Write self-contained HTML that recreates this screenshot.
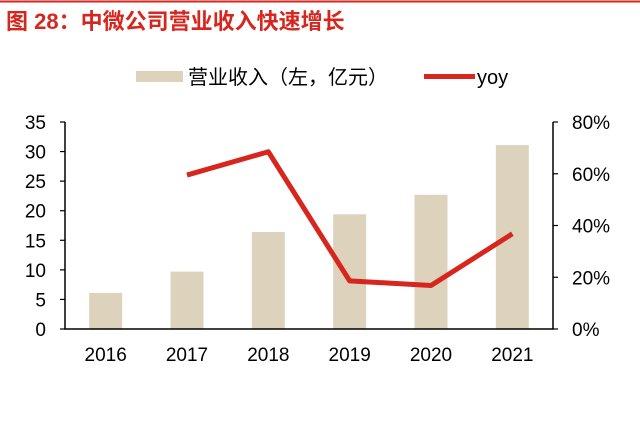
<!DOCTYPE html>
<html><head><meta charset="utf-8"><style>
body{margin:0;background:#fff;}
svg{display:block;font-family:"Liberation Sans","Noto Sans CJK SC",sans-serif;}
</style></head><body>
<svg width="640" height="421" viewBox="0 0 640 421">
<line x1="0" y1="1.5" x2="640" y2="1.5" stroke="#d7261e" stroke-width="2"/>
<text x="6" y="29" font-size="22" font-weight="bold" fill="#d7261e">图 28：中微公司营业收入快速增长</text>
<rect x="136" y="71" width="47" height="11" fill="#ddd3bd"/>
<text x="188" y="84" font-size="20" fill="#000">营业收入（左，亿元）</text>
<line x1="424" y1="76.5" x2="475" y2="76.5" stroke="#d7261e" stroke-width="5"/>
<text x="477" y="84" font-size="20" fill="#000">yoy</text>
<g id="plot"></g>
</svg>
<script>
const categories=["2016","2017","2018","2019","2020","2021"];
const revenue=[6.1,9.7,16.4,19.4,22.7,31.1];
const yoy=[null,59.5,68.5,18.6,16.8,36.8];
const leftTicks=[0,5,10,15,20,25,30,35];
const rightTicks=[0,20,40,60,80];
const NS="http://www.w3.org/2000/svg";
const g=document.getElementById("plot");
const X0=65,X1=553,Y0=329,Y1=122;
const bw=(X1-X0)/categories.length;
const xc=i=>X0+bw*(i+0.5);
const yL=v=>Y0-(v/35)*(Y0-Y1);
const yR=v=>Y0-(v/80)*(Y0-Y1);
function mk(t,a){const e=document.createElementNS(NS,t);for(const k in a)e.setAttribute(k,a[k]);g.appendChild(e);return e;}
revenue.forEach((v,i)=>{
 const r=mk("rect",{x:xc(i)-16.5,y:yL(v),width:33,height:Y0-yL(v),fill:"#ddd3bd"});
 
 
});
let pts=[];yoy.forEach((v,i)=>{if(v!==null)pts.push(xc(i)+","+yR(v));});
const pl=mk("polyline",{points:pts.join(" "),fill:"none",stroke:"#d7261e","stroke-width":5,"stroke-linejoin":"round"});


const ax=mk("path",{d:`M${X0},${Y1}V${Y0}H${X1}V${Y1}`,fill:"none",stroke:"#000","stroke-width":1.5});


leftTicks.forEach(v=>{
 mk("line",{x1:X0-5,x2:X0,y1:yL(v),y2:yL(v),stroke:"#000","stroke-width":1.2});
 const t=mk("text",{x:X0-19,y:yL(v)+7,"font-size":19,"text-anchor":"end"});t.textContent=v;
 
 
});
rightTicks.forEach(v=>{
 mk("line",{x1:X1,x2:X1+5,y1:yR(v),y2:yR(v),stroke:"#000","stroke-width":1.2});
 const t=mk("text",{x:X1+19,y:yR(v)+7,"font-size":19});t.textContent=v+"%";
 
 
});
categories.forEach((c,i)=>{
 const t=mk("text",{x:xc(i),y:361,"font-size":19,"text-anchor":"middle"});t.textContent=c;
 
 
});
</script>
</body></html>
